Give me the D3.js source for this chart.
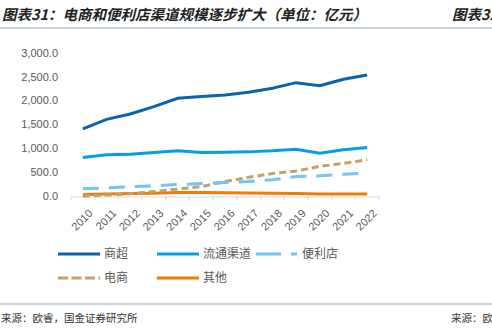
<!DOCTYPE html>
<meta charset="utf-8">
<script src="https://d3js.org/d3.v7.min.js"></script>
<style>
  body { margin: 0; background: #fff; }
  text { font-family: "Liberation Sans", Arial, sans-serif; }
  .cjk { font-family: "Noto Sans CJK SC", sans-serif; }
</style>
<div id="chart"></div>
<script>
  // data (亿元)
  const years = ["2010", "2011", "2012", "2013", "2014", "2015", "2016", "2017", "2018", "2019", "2020", "2021", "2022"];
  const shangchao = [1410, 1610, 1720, 1875, 2050, 2085, 2120, 2175, 2260, 2375, 2310, 2445, 2535];
  const liutong = [812, 870, 883, 917, 952, 917, 925, 931, 952, 987, 904, 973, 1021];
  const bianlidian = [160, 181, 202, 223, 250, 271, 292, 313, 348, 417, 431, 462, 487];
  const dianshang = [10, 30, 56, 104, 154, 205, 312, 400, 480, 530, 630, 690, 765];
  const qita = [40, 50, 60, 70, 85, 85, 80, 75, 70, 65, 50, 50, 50];
  const yTicks = [0, 500, 1000, 1500, 2000, 2500, 3000];

  const series = [
    { name: "商超", values: shangchao, color: "#0b62ad", dash: null, legDash: null },
    { name: "流通渠道", values: liutong, color: "#00a0e8", dash: null, legDash: null },
    { name: "便利店", values: bianlidian, color: "#6fc5f3", dash: "16,10", legDash: "25,10,6" },
    { name: "电商", values: dianshang, color: "#c4a166", dash: "7,4", legDash: "10,3.5" },
    { name: "其他", values: qita, color: "#ee7d06", dash: null, legDash: null }
  ];

  const W = 492, H = 329;
  const svg = d3.select("#chart").append("svg")
    .attr("width", W).attr("height", H);

  // title
  svg.append("text").attr("class", "cjk")
    .attr("x", 2).attr("y", 20)
    .attr("font-size", 14.5).attr("font-style", "italic").attr("font-weight", "bold")
    .attr("fill", "#222")
    .text("图表31：电商和便利店渠道规模逐步扩大（单位：亿元）");
  svg.append("text").attr("class", "cjk")
    .attr("x", 452).attr("y", 20)
    .attr("font-size", 14.5).attr("font-style", "italic").attr("font-weight", "bold")
    .attr("fill", "#222")
    .text("图表32");
  svg.append("line").attr("x1", 0).attr("x2", W).attr("y1", 28).attr("y2", 28)
    .attr("stroke", "#8ea8c0").attr("stroke-width", 1);

  // scales
  const x = d3.scaleBand().domain(years).range([71, 379]);
  const y = d3.scaleLinear().domain([0, 3000]).range([196.5, 52.7]);
  const cx = d => x(d) + x.bandwidth() / 2;

  // y axis labels
  svg.append("g").selectAll("text").data(yTicks).enter().append("text")
    .attr("x", 58).attr("y", d => y(d)).attr("dy", "0.35em")
    .attr("text-anchor", "end").attr("font-size", 11).attr("fill", "#595959")
    .text(d => d3.format(",.1f")(d));

  // x axis
  const xAxis = svg.append("g").attr("transform", "translate(0," + y(0) + ")")
    .call(d3.axisBottom(x).tickSize(0).tickPadding(0));
  xAxis.select(".domain").attr("stroke", "#d9d9d9");
  xAxis.selectAll(".tick text")
    .attr("font-size", 11).attr("fill", "#595959")
    .attr("text-anchor", "end")
    .attr("font-family", "Liberation Sans, Arial, sans-serif")
    .attr("transform", "translate(5,12) rotate(-45)");
  svg.append("g").selectAll("line").data(years.concat(["end"])).enter().append("line")
    .attr("x1", (d, i) => 71 + i * x.step()).attr("x2", (d, i) => 71 + i * x.step())
    .attr("y1", y(0)).attr("y2", y(0) + 4)
    .attr("stroke", "#d9d9d9");

  // lines
  const line = d3.line().x((d, i) => cx(years[i])).y(d => y(d));
  const order = [4, 3, 2, 1, 0];
  order.forEach(k => {
    const s = series[k];
    svg.append("path").datum(s.values)
      .attr("fill", "none").attr("stroke", s.color).attr("stroke-width", 3)
      .attr("stroke-dasharray", s.dash)
      .attr("d", line);
  });

  // legend
  const legendPos = [
    { x: 58, y: 254 }, { x: 157, y: 254 }, { x: 256, y: 254 },
    { x: 58, y: 278 }, { x: 157, y: 278 }
  ];
  series.forEach((s, i) => {
    const p = legendPos[i];
    svg.append("line").attr("x1", p.x).attr("x2", p.x + 42)
      .attr("y1", p.y).attr("y2", p.y)
      .attr("stroke", s.color).attr("stroke-width", 3)
      .attr("stroke-dasharray", s.legDash);
    svg.append("text").attr("class", "cjk")
      .attr("x", p.x + 46).attr("y", p.y).attr("dy", "0.35em")
      .attr("font-size", 12).attr("fill", "#595959")
      .text(s.name);
  });

  // footer
  svg.append("line").attr("x1", 0).attr("x2", W).attr("y1", 304).attr("y2", 304)
    .attr("stroke", "#8ea8c0").attr("stroke-width", 1);
  svg.append("text").attr("class", "cjk")
    .attr("x", 1).attr("y", 318).attr("dy", "0.35em")
    .attr("font-size", 10.5).attr("fill", "#333")
    .text("来源：欧睿，国金证券研究所");
  svg.append("text").attr("class", "cjk")
    .attr("x", 451).attr("y", 318).attr("dy", "0.35em")
    .attr("font-size", 10.5).attr("fill", "#333")
    .text("来源：欧睿");
</script>
